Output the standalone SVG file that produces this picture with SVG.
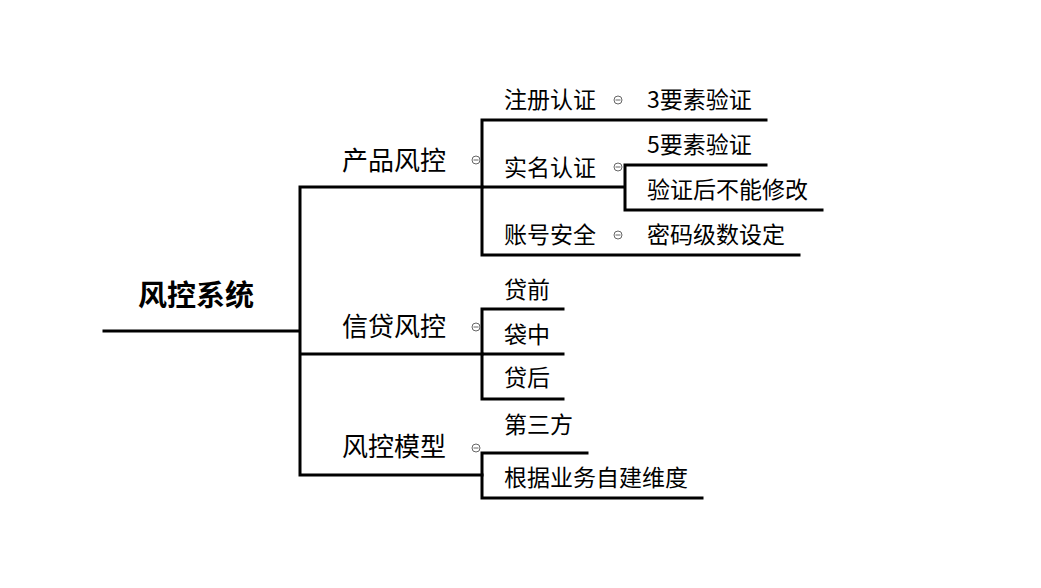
<svg xmlns="http://www.w3.org/2000/svg" width="1041" height="588" viewBox="0 0 1041 588">
<style>
.ln{stroke:#000;stroke-width:3;fill:none;stroke-linecap:square}
.t{font-family:"Microsoft YaHei","Noto Sans CJK SC",sans-serif;fill:#000}
.r{font-size:29px;font-weight:bold}
.l1{font-size:26px}
.l2{font-size:23px}
</style>
<defs>
<g id="col"><circle r="4" fill="#fff" stroke="#666" stroke-width="1"/><line x1="-2.5" y1="0" x2="2.5" y2="0" stroke="#666" stroke-width="1"/></g>
</defs>
<rect width="1041" height="588" fill="#fff"/>
<g id="connectors">
<path class="ln" d="M104 331H300M300 187V475M300 187H482M300 354H482M300 475H482"/>
<path class="ln" d="M482 120V255M482 120H766M482 187H625M625 165V210M625 165H766M625 210H822M482 255H799"/>
<path class="ln" d="M482 309V399M482 309H563M482 354H563M482 399H563"/>
<path class="ln" d="M482 453V498M482 453H587M482 498H702"/>
</g>
<g id="root"><text class="t r" x="196" y="306" text-anchor="middle">风控系统</text></g>
<g id="n1"><text class="t l1" x="342" y="170">产品风控</text><use href="#col" x="476" y="160"/></g>
<g id="n2"><text class="t l1" x="342" y="336">信贷风控</text><use href="#col" x="476" y="327"/></g>
<g id="n3"><text class="t l1" x="342" y="456">风控模型</text><use href="#col" x="476" y="448"/></g>
<g id="n11"><text class="t l2" x="504" y="108">注册认证</text><use href="#col" x="618" y="100"/></g>
<g id="n111"><text class="t l2" x="647" y="108">3要素验证</text></g>
<g id="n12"><text class="t l2" x="504" y="176">实名认证</text><use href="#col" x="618" y="167"/></g>
<g id="n121"><text class="t l2" x="647" y="153">5要素验证</text></g>
<g id="n122"><text class="t l2" x="647" y="198">验证后不能修改</text></g>
<g id="n13"><text class="t l2" x="504" y="243">账号安全</text><use href="#col" x="618" y="235"/></g>
<g id="n131"><text class="t l2" x="647" y="243">密码级数设定</text></g>
<g id="n21"><text class="t l2" x="504" y="298">贷前</text></g>
<g id="n22"><text class="t l2" x="504" y="343">袋中</text></g>
<g id="n23"><text class="t l2" x="504" y="386">贷后</text></g>
<g id="n31"><text class="t l2" x="504" y="433">第三方</text></g>
<g id="n32"><text class="t l2" x="504" y="486">根据业务自建维度</text></g>
</svg>
